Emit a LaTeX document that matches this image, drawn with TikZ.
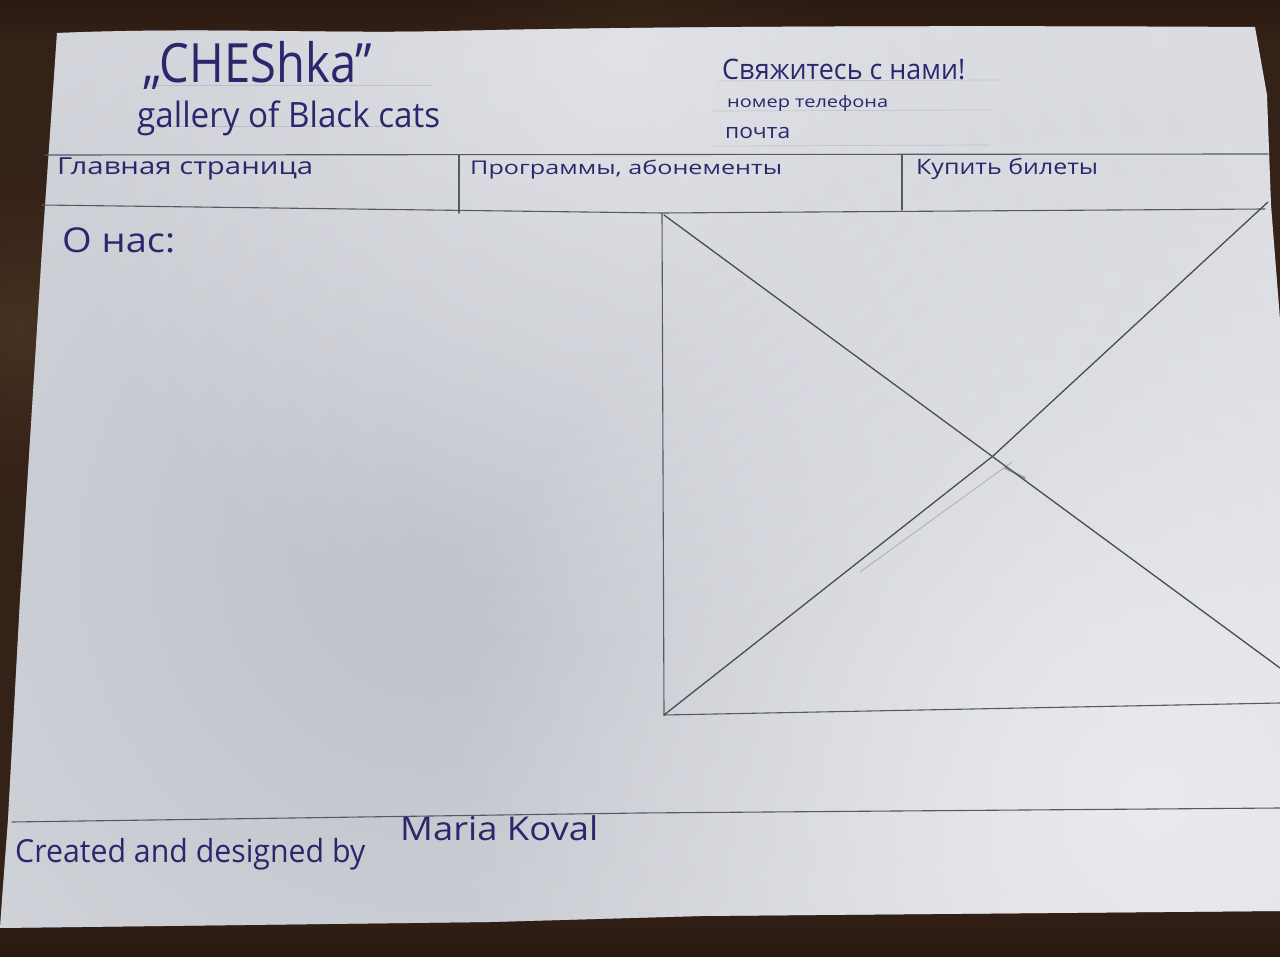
\documentclass[tikz,border=0pt]{standalone}
\usepackage{fontspec}
\usepackage{graphicx}
\usetikzlibrary{fadings}
\newfontfamily\hand{Open Sans}
\definecolor{wood}{RGB}{52,33,23}
\definecolor{wooddark}{RGB}{34,21,14}
\definecolor{woodlight}{RGB}{78,56,38}
\definecolor{paperc}{RGB}{218,220,225}
\definecolor{papershade}{RGB}{188,191,199}
\definecolor{paperlight}{RGB}{236,237,241}
\definecolor{ink}{RGB}{42,40,108}
\definecolor{pencil}{RGB}{86,89,98}
% soft round patch that fades out smoothly towards its rim
\tikzfading[name=softblob, inner color=transparent!0, outer color=transparent!100]
% handwritten-looking label: width in px, optional vertical squeeze
\newcommand\hw[3][1]{\scalebox{1}[#1]{\resizebox{#2pt}{!}{\hand #3}}}
\def\paperoutline{(57,33) .. controls (200,27) and (330,34) .. (450,31)
  .. controls (620,27) and (900,25) .. (1255,27)
  -- (1267,95) -- (1271,205) -- (1280,320) -- (1280,911)
  -- (700,916) -- (490,922) -- (0,928) -- (2,900) -- (8,820)
  -- (20,600) -- (42,250) -- cycle}
\begin{document}
\begin{tikzpicture}[x=1pt,y=-1pt,
  txt/.style={inner sep=0pt, anchor=base west, text=ink},
  pencilline/.style={draw=pencil, line width=1.1pt, line cap=round},
  diag/.style={draw=pencil!85!black, line width=1.3pt, line cap=round},
  ruled/.style={draw=pencil, line width=0.7pt, opacity=0.18},
  softspot/.style={path fading=softblob}]
\useasboundingbox (0,0) rectangle (1280,957);
% wooden table
\fill[wood] (0,0) rectangle (1280,957);
\fill[woodlight, softspot, opacity=0.7] (20,330) circle (160);
\fill[woodlight, softspot, opacity=0.5] (640,10) circle (200);
\shade[top color=wooddark, bottom color=wood, opacity=0.5] (0,0) rectangle (1280,40);
\shade[top color=wood, bottom color=wooddark, opacity=0.6] (0,900) rectangle (1280,957);
% sheet of paper
\fill[paperc] \paperoutline;
\begin{scope}
  \clip \paperoutline;
  \fill[papershade, softspot, opacity=0.9] (430,560) circle (900);
  \fill[paperlight, softspot, opacity=0.9] (1150,800) circle (700);
  \fill[paperlight, softspot, opacity=0.6] (620,60) circle (600);
\end{scope}

% faint ruling under the header texts
\draw[ruled] (150,85) -- (433,85);
\draw[ruled] (140,126) -- (430,126);
\draw[ruled] (718,81) -- (1000,80);
\draw[ruled] (713,111) -- (990,110);
\draw[ruled] (713,146) -- (990,145);

% header and navigation bar
\coordinate (hl) at (45,155);
\coordinate (hr) at (1268,154);
\coordinate (nl) at (42,205);
\coordinate (nm) at (662,213);
\coordinate (nr) at (1265,209);
\draw[pencilline] (hl) -- (hr);
\draw[pencilline] (nl) -- (nm) -- (nr);
\coordinate (d1t) at (459,155);
\coordinate (d1b) at (459,213);
\coordinate (d2t) at (902,155);
\coordinate (d2b) at (902,210);
\draw[pencilline] (d1t) -- (d1b);
\draw[pencilline] (d2t) -- (d2b);

% image placeholder with its cross
\coordinate (pt) at (662,213);
\coordinate (pb) at (664,715);
\coordinate (pbr) at (1280,703);
\coordinate (xc) at (993,456);
\coordinate (d1e) at (1280,668);
\coordinate (d2e) at (1268,202);
\draw[pencilline] (pt) -- (pb) -- (pbr);
\draw[diag] (664,215) -- (d1e);
\draw[diag] (pb) -- (xc) -- (d2e);
\draw[pencil, line width=0.8pt, opacity=0.35] (860,572) -- (1012,462);
\draw[pencil, line width=2pt, opacity=0.5, line cap=round] (1005,468) -- (1025,478);

% footer line
\coordinate (fl) at (12,822);
\coordinate (fm) at (640,813);
\coordinate (fr) at (1280,808);
\draw[pencilline] (fl) -- (fm) -- (fr);

% texts
\node[txt] (logo) at (143,83) {\hw[1.15]{229}{„CHEShka”}};
\node[txt] (tagline) at (137,128) {\hw[1.05]{303}{gallery of Black cats}};
\node[txt] (contact) at (722,80) {\hw[1.05]{243}{Свяжитесь с нами!}};
\node[txt] (phone) at (727,108) {\hw[0.8]{161}{номер телефона}};
\node[txt] (mail) at (725,139) {\hw[0.9]{65}{почта}};
\node[txt] (nav1) at (57,175) {\hw[0.8]{256}{Главная страница}};
\node[txt] (nav2) at (470,175) {\hw[0.75]{312}{Программы, абонементы}};
\node[txt] (nav3) at (916,175) {\hw[0.85]{182}{Купить билеты}};
\node[txt] (about) at (62,253) {\hw[0.9]{113}{О нас:}};
\node[txt] (credit) at (15,862) {\hw[1.05]{350}{Created and designed by}};
\node[txt] (author) at (400,840) {\hw[0.9]{198}{Maria Koval}};
\end{tikzpicture}
\end{document}
